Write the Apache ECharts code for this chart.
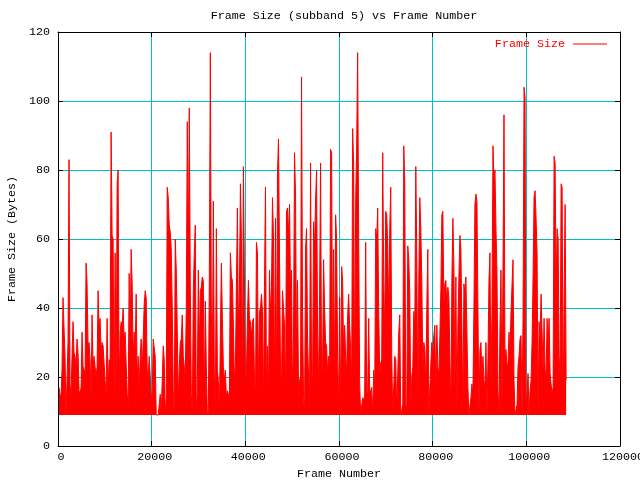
<!DOCTYPE html>
<html>
<head>
<meta charset="utf-8">
<script src="https://cdn.jsdelivr.net/npm/echarts@6/dist/echarts.min.js"></script>
<style>html,body{margin:0;padding:0;background:#fff}#c{width:640px;height:480px}</style>
</head>
<body>
<div id="c"></div>
<script>
// Frame size read per ~214-frame pixel column (column maxima), frames 0..108000
const frameSizes = [
17,15,14,22,43,43,26,9,9,30,83,18,15,26,36,27,26,23,31,27,16,15,17,33,23,22,21,53,47,29,30,25,14,38,23,26,23,20,23,45,34,37,28,30,29,29,19,15,37,16,25,24,91,61,60,12,56,15,76,80,14,33,36,35,
40,31,33,24,15,12,50,30,57,47,25,33,28,44,19,26,16,26,31,22,31,41,45,43,22,20,26,20,14,15,31,31,26,9,9,9,9,15,9,9,29,25,9,14,75,72,64,62,57,40,16,9,60,51,34,12,23,30,31,38,26,26,20,40,
94,54,98,47,15,9,45,56,64,9,16,51,28,45,46,49,48,12,42,23,9,10,49,114,39,23,71,20,9,63,22,19,9,32,53,37,23,19,22,14,16,16,14,56,49,48,35,19,23,23,69,33,45,76,60,17,81,81,19,21,37,48,37,36,
32,36,37,21,12,59,56,16,39,40,44,39,11,46,75,16,29,14,51,38,46,72,61,16,66,16,79,89,56,23,17,45,45,35,13,68,69,61,70,45,51,15,32,85,73,27,48,17,19,20,107,39,14,9,57,63,31,20,15,82,20,19,65,57,
71,80,33,17,44,82,20,24,54,40,30,29,21,26,21,86,85,20,57,17,67,60,26,11,43,9,52,48,26,35,26,21,38,44,35,28,18,92,81,18,71,87,114,61,18,9,9,14,13,15,59,15,16,37,15,16,17,9,22,16,63,60,69,39,
21,24,25,85,48,32,68,67,58,37,63,75,26,9,17,26,25,9,9,33,38,9,9,12,87,76,12,11,58,54,44,11,20,23,39,34,81,54,11,49,72,63,48,23,30,28,17,40,57,9,9,24,30,26,32,35,17,35,23,20,32,45,67,68,
41,47,48,40,46,43,43,9,48,66,52,17,49,9,35,49,61,57,34,9,47,44,49,49,17,9,9,14,18,15,40,70,73,71,40,9,28,30,20,26,19,17,30,9,25,48,56,18,38,87,77,80,63,50,16,9,35,51,11,51,96,24,28,23,
24,33,27,39,39,54,19,9,9,12,23,26,31,32,9,37,104,101,9,9,21,9,16,19,30,49,72,74,66,56,9,36,31,44,44,22,37,22,20,37,29,37,21,18,15,17,84,82,45,63,60,26,20,76,75,9,44,70,19
];
const frameStep = 214;          // frames per sampled column
const minFrameSize = 9;         // floor of the trace
const xTicks = [0, 20000, 40000, 60000, 80000, 100000, 120000];
const yTicks = [0, 20, 40, 60, 80, 100, 120];

const seriesData = frameSizes.map((v, i) => [(i + 1) * frameStep, v]);
const font = 'Liberation Mono';
const fs = 11.7;
const gridColor = '#00c0c0';

const chart = echarts.init(document.getElementById('c'), null, {renderer: 'canvas'});
const tickCommon = {show: true, inside: true, length: 5, lineStyle: {color: '#000'}};
chart.setOption({
  animation: false,
  backgroundColor: '#fff',
  title: {
    text: 'Frame Size (subband 5) vs Frame Number',
    left: 339, top: 5, textAlign: 'center',
    textStyle: {fontFamily: font, fontSize: fs, fontWeight: 'normal', color: '#000'}
  },
  legend: {
    right: 28, top: 33, align: 'right', icon: 'rect', itemWidth: 34, itemHeight: 1, itemGap: 0,
    textStyle: {color: '#ff0000', fontFamily: font, fontSize: fs, padding: [0, 3, 0, 0]},
    data: [{name: 'Frame Size', itemStyle: {color: '#ff0000'}}]
  },
  grid: {left: 58, right: 20, top: 32, bottom: 34, containLabel: false, outerBoundsMode: 'none'},
  xAxis: [{
    type: 'value', min: xTicks[0], max: xTicks[xTicks.length - 1], interval: xTicks[1] - xTicks[0],
    name: 'Frame Number', nameLocation: 'middle', nameGap: 22,
    nameTextStyle: {fontFamily: font, fontSize: fs, color: '#000'},
    axisLine: {show: true, lineStyle: {color: '#000'}},
    axisTick: tickCommon,
    axisLabel: {fontFamily: font, fontSize: fs, color: '#000', margin: 5, padding: [0, 0, 0, 6], formatter: v => String(v)},
    splitLine: {show: true, lineStyle: {color: gridColor, width: 1}}
  }, {
    type: 'value', position: 'top', min: xTicks[0], max: xTicks[xTicks.length - 1], interval: xTicks[1] - xTicks[0],
    axisLine: {show: true, onZero: false, lineStyle: {color: '#000'}},
    axisTick: tickCommon, axisLabel: {show: false}, splitLine: {show: false}
  }],
  yAxis: [{
    type: 'value', min: yTicks[0], max: yTicks[yTicks.length - 1], interval: yTicks[1] - yTicks[0],
    name: 'Frame Size (Bytes)', nameLocation: 'middle', nameGap: 40,
    nameTextStyle: {fontFamily: font, fontSize: fs, color: '#000'},
    axisLine: {show: true, lineStyle: {color: '#000'}},
    axisTick: tickCommon,
    axisLabel: {fontFamily: font, fontSize: fs, color: '#000', margin: 8, formatter: v => String(v)},
    splitLine: {show: true, lineStyle: {color: gridColor, width: 1}}
  }, {
    type: 'value', position: 'right', min: yTicks[0], max: yTicks[yTicks.length - 1], interval: yTicks[1] - yTicks[0],
    axisLine: {show: true, onZero: false, lineStyle: {color: '#000'}},
    axisTick: tickCommon, axisLabel: {show: false}, splitLine: {show: false}
  }],
  series: [{
    name: 'Frame Size', type: 'line', data: seriesData,
    showSymbol: false, symbol: 'none',
    lineStyle: {color: '#ff0000', width: 1},
    itemStyle: {color: '#ff0000'},
    areaStyle: {color: '#ff0000', opacity: 1, origin: minFrameSize}
  }]
});
</script>
</body>
</html>
